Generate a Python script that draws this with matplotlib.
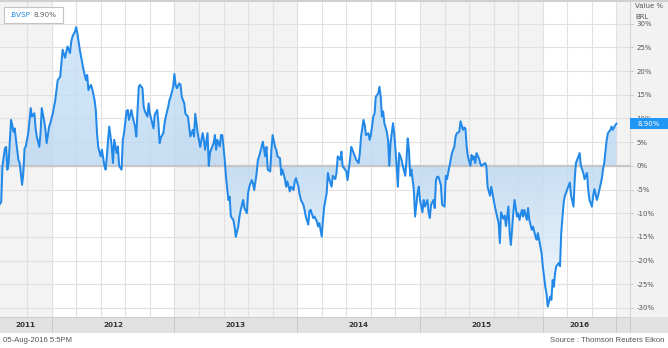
import matplotlib
matplotlib.use('agg')
import matplotlib.pyplot as plt
import matplotlib.transforms as mtransforms
import numpy as np
from matplotlib.colors import LinearSegmentedColormap
from matplotlib.patches import Rectangle

# .BVSP, % change over the period, x in decimal years
years = [
    2011.58, 2011.59, 2011.60, 2011.62, 2011.63, 2011.64, 2011.65, 2011.67, 2011.68, 2011.69,
    2011.70, 2011.71, 2011.73, 2011.74, 2011.76, 2011.77, 2011.78, 2011.79, 2011.81, 2011.83,
    2011.84, 2011.86, 2011.87, 2011.88, 2011.90, 2011.91, 2011.92, 2011.94, 2011.95, 2011.96,
    2011.98, 2011.99, 2012.01, 2012.02, 2012.03, 2012.05, 2012.07, 2012.08, 2012.09, 2012.11,
    2012.12, 2012.13, 2012.15, 2012.16, 2012.17, 2012.19, 2012.20, 2012.21, 2012.22, 2012.23,
    2012.25, 2012.26, 2012.28, 2012.29, 2012.30, 2012.32, 2012.33, 2012.35, 2012.36, 2012.37,
    2012.38, 2012.40, 2012.41, 2012.43, 2012.44, 2012.45, 2012.46, 2012.47, 2012.49, 2012.50,
    2012.51, 2012.53, 2012.54, 2012.55, 2012.57, 2012.58, 2012.59, 2012.61, 2012.62, 2012.63,
    2012.65, 2012.66, 2012.68, 2012.69, 2012.70, 2012.71, 2012.72, 2012.74, 2012.75, 2012.76,
    2012.78, 2012.79, 2012.80, 2012.82, 2012.83, 2012.84, 2012.86, 2012.87, 2012.88, 2012.89,
    2012.91, 2012.92, 2012.93, 2012.95, 2012.96, 2012.97, 2012.99, 2013.00, 2013.01, 2013.02,
    2013.04, 2013.05, 2013.06, 2013.08, 2013.09, 2013.11, 2013.12, 2013.13, 2013.15, 2013.16,
    2013.17, 2013.19, 2013.20, 2013.21, 2013.23, 2013.24, 2013.25, 2013.27, 2013.28, 2013.29,
    2013.31, 2013.32, 2013.33, 2013.34, 2013.35, 2013.37, 2013.38, 2013.39, 2013.41, 2013.42,
    2013.44, 2013.45, 2013.46, 2013.48, 2013.49, 2013.50, 2013.52, 2013.53, 2013.54, 2013.56,
    2013.57, 2013.59, 2013.60, 2013.61, 2013.63, 2013.64, 2013.65, 2013.67, 2013.68, 2013.69,
    2013.71, 2013.72, 2013.74, 2013.75, 2013.76, 2013.78, 2013.79, 2013.80, 2013.82, 2013.83,
    2013.84, 2013.86, 2013.87, 2013.88, 2013.90, 2013.91, 2013.92, 2013.94, 2013.95, 2013.97,
    2013.98, 2013.99, 2014.01, 2014.02, 2014.03, 2014.05, 2014.06, 2014.07, 2014.09, 2014.10,
    2014.11, 2014.13, 2014.14, 2014.16, 2014.17, 2014.18, 2014.20, 2014.21, 2014.22, 2014.24,
    2014.25, 2014.26, 2014.28, 2014.29, 2014.31, 2014.32, 2014.33, 2014.35, 2014.36, 2014.37,
    2014.39, 2014.40, 2014.41, 2014.43, 2014.44, 2014.45, 2014.47, 2014.48, 2014.50, 2014.51,
    2014.52, 2014.54, 2014.55, 2014.56, 2014.58, 2014.59, 2014.60, 2014.62, 2014.63, 2014.64,
    2014.66, 2014.67, 2014.68, 2014.69, 2014.70, 2014.71, 2014.73, 2014.74, 2014.75, 2014.76,
    2014.78, 2014.79, 2014.80, 2014.81, 2014.82, 2014.83, 2014.85, 2014.86, 2014.88, 2014.89,
    2014.90, 2014.91, 2014.92, 2014.93, 2014.95, 2014.96, 2014.98, 2014.99, 2015.00, 2015.02,
    2015.03, 2015.04, 2015.06, 2015.07, 2015.08, 2015.09, 2015.11, 2015.12, 2015.13, 2015.14,
    2015.15, 2015.17, 2015.18, 2015.20, 2015.21, 2015.22, 2015.24, 2015.25, 2015.26, 2015.28,
    2015.29, 2015.30, 2015.32, 2015.33, 2015.35, 2015.36, 2015.37, 2015.38, 2015.39, 2015.41,
    2015.42, 2015.43, 2015.44, 2015.45, 2015.46, 2015.48, 2015.49, 2015.50, 2015.51, 2015.53,
    2015.54, 2015.55, 2015.57, 2015.58, 2015.59, 2015.61, 2015.62, 2015.64, 2015.65, 2015.66,
    2015.68, 2015.69, 2015.70, 2015.72, 2015.73, 2015.74, 2015.76, 2015.77, 2015.79, 2015.80,
    2015.81, 2015.83, 2015.84, 2015.85, 2015.87, 2015.88, 2015.89, 2015.91, 2015.92, 2015.94,
    2015.95, 2015.96, 2015.98, 2015.99, 2016.00, 2016.02, 2016.03, 2016.04, 2016.06, 2016.07,
    2016.08, 2016.09, 2016.10, 2016.11, 2016.13, 2016.14, 2016.15, 2016.17, 2016.18, 2016.19,
    2016.21, 2016.22, 2016.23, 2016.25, 2016.26, 2016.27, 2016.29, 2016.30, 2016.31, 2016.33,
    2016.34, 2016.36, 2016.37, 2016.38, 2016.40, 2016.41, 2016.42, 2016.44, 2016.45, 2016.46,
    2016.48, 2016.49, 2016.50, 2016.52, 2016.53, 2016.55, 2016.56, 2016.57, 2016.59, 2016.60,
]
bvsp_pct = [
    -8.0, -7.6, 0.0, 3.7, 4.0, -0.8, 0.6, 9.7, 8.6, 7.2,
    7.9, 5.5, 1.3, 0.6, -4.0, -1.5, 3.7, 4.1, 6.9, 12.2,
    10.4, 11.1, 7.9, 6.1, 4.0, 6.9, 12.2, 9.4, 7.6, 4.8,
    8.3, 9.0, 11.1, 12.5, 13.9, 18.1, 18.8, 21.7, 24.5, 22.8,
    24.1, 25.2, 23.8, 26.2, 27.3, 28.3, 29.3, 28.0, 26.2, 24.5,
    21.7, 20.3, 18.1, 19.2, 16.0, 17.1, 16.4, 13.9, 11.8, 6.9,
    4.0, 2.0, 3.4, 0.0, -0.8, 2.0, 5.5, 8.3, 4.1, 0.6,
    5.5, 2.7, 4.1, 0.0, -0.8, 5.5, 6.9, 11.5, 11.8, 9.7,
    11.8, 10.4, 8.3, 6.2, 11.8, 16.7, 17.1, 16.4, 12.5, 11.5,
    10.4, 13.2, 11.1, 9.0, 7.9, 10.8, 11.8, 9.0, 4.8, 6.0,
    6.9, 9.0, 10.4, 12.5, 13.9, 14.6, 16.7, 19.4, 17.1, 16.4,
    17.4, 17.1, 14.6, 13.2, 11.0, 10.4, 8.3, 6.2, 7.6, 6.2,
    11.0, 6.9, 5.5, 4.0, 6.9, 5.5, 3.4, 6.9, 0.0, 2.8,
    4.2, 4.8, 6.5, 3.4, 5.5, 4.1, 6.5, 6.5, 1.3, -2.3,
    -7.2, -6.5, -10.7, -11.4, -12.8, -15.0, -12.8, -10.7, -9.3, -7.2,
    -8.9, -10.0, -5.8, -4.4, -3.0, -3.7, -5.1, -1.5, 1.3, 2.0,
    4.0, 5.1, 2.0, 4.0, -0.8, -1.2, 3.4, 6.5, 4.0, 3.4,
    2.0, 1.6, -1.9, -0.8, -2.8, -4.4, -3.3, -5.4, -4.4, -5.1,
    -3.3, -2.6, -4.4, -6.1, -7.2, -8.2, -9.3, -10.7, -12.4, -9.5,
    -9.3, -11.0, -10.7, -11.7, -12.8, -12.1, -14.9, -11.4, -8.6, -5.8,
    -1.5, -2.8, -4.4, -2.1, -2.8, -1.5, 2.0, 1.3, 3.0, -0.1,
    -0.8, -1.2, -3.0, 1.3, 4.0, 3.4, 2.0, 1.3, 0.6, 2.7,
    6.2, 9.7, 8.6, 6.5, 6.9, 5.5, 6.5, 10.4, 11.1, 14.6,
    15.3, 16.7, 14.6, 10.4, 11.5, 9.0, 7.2, 5.5, 0.0, 4.8,
    9.0, 6.9, 3.4, 0.0, -4.4, 2.7, 1.3, 0.0, -2.1, 1.3,
    5.8, 3.4, -2.1, -0.8, -5.1, -10.7, -5.8, -4.4, -7.2, -9.8,
    -7.2, -8.6, -7.2, -9.8, -11.0, -8.2, -7.2, -8.9, -3.0, -2.3,
    -2.3, -4.0, -8.2, -8.6, -2.1, -2.8, 0.0, 1.3, 2.7, 4.1,
    6.2, 6.9, 7.2, 9.4, 7.6, 8.1, 7.9, 4.1, 2.0, 0.0,
    2.3, 1.3, 2.0, 0.6, 2.7, 1.6, 0.6, 0.0, 0.2, 0.6,
    0.0, -4.4, -6.3, -4.4, -5.8, -8.6, -9.8, -12.1, -16.3, -9.8,
    -11.2, -10.5, -12.7, -8.6, -14.2, -16.7, -9.8, -7.2, -10.7, -10.0,
    -11.4, -9.3, -10.7, -9.3, -11.4, -8.9, -11.4, -13.5, -12.8, -14.9,
    -15.6, -14.2, -17.0, -18.4, -21.2, -25.5, -26.9, -29.7, -27.6, -28.3,
    -24.1, -25.5, -22.6, -21.2, -20.5, -21.2, -14.2, -7.7, -6.3, -5.6,
    -4.2, -3.5, -6.3, -8.6, -2.8, 0.6, 2.0, 2.7, 0.0, -1.5,
    -2.8, -1.5, -5.1, -7.2, -8.6, -6.3, -4.9, -7.2, -6.3, -5.1,
    -2.8, -0.8, 0.6, 5.5, 6.9, 7.6, 8.3, 7.6, 8.6, 8.90,
]
ric = '.BVSP'
last_value = bvsp_pct[-1]
ytick_values = list(range(-30, 35, 5))
year_labels = [2011, 2012, 2013, 2014, 2015, 2016]
shaded_years = [2011, 2013, 2015]
timestamp = '05-Aug-2016 5:5PM'
source = 'Source : Thomson Reuters Eikon'

x_min, x_max = 2011.58, 2016.71
y_min, y_max = -31.9, 34.8

W, H = 668, 348
blue = '#2389e8'
grid_c = '#e6dfdf'
txt_c = '#555555'

fig = plt.figure(figsize=(W / 100, H / 100), dpi=100)
fig.patch.set_facecolor('white')

# main plot
ax = fig.add_axes([0, 31 / H, 630 / W, 316 / H])
ax.set_facecolor('white')
for yr in shaded_years:
    ax.axvspan(max(yr, x_min), yr + 1, color='#f3f3f3', lw=0, zorder=0)
ax.axvspan(years[-1], x_max, color='#f3f3f3', lw=0, zorder=0)
for v in ytick_values:
    ax.axhline(v, color=grid_c, lw=0.8, zorder=1)
for xv in np.arange(2011.8, 2016.61, 0.2):
    ax.axvline(xv, color=grid_c, lw=0.8, zorder=1)

# gradient area between line and zero
fill = ax.fill_between(years, bvsp_pct, 0, facecolor='none', edgecolor='none')
zero_frac = (0 - y_min) / (y_max - y_min)
fill_cmap = LinearSegmentedColormap.from_list(
    'fill', [(0, '#f4faff'), (zero_frac, '#bcd8f1'), (1, '#cce5fa')])
grad = np.linspace(0, 1, 256).reshape(-1, 1)
img = ax.imshow(grad, cmap=fill_cmap, extent=(x_min, x_max, y_min, y_max),
                origin='lower', aspect='auto', alpha=0.82, zorder=2,
                interpolation='bilinear')
img.set_clip_path(fill.get_paths()[0], ax.transData)

ax.axhline(0, color='#c6c6c6', lw=1.6, zorder=3)
ax.plot(years, bvsp_pct, color=blue, lw=1.45, zorder=4, solid_joinstyle='round')

ax.set_xlim(x_min, x_max)
ax.set_ylim(y_min, y_max)
ax.set_xticks([])
ax.set_yticks([])
for side in ('left', 'right', 'bottom'):
    ax.spines[side].set_visible(False)
ax.spines['top'].set_color('#d0d0d0')
ax.spines['top'].set_linewidth(1.5)

# legend box top left
fig.patches.append(Rectangle((4 / W, 1 - 23 / H), 59 / W, 16 / H, transform=fig.transFigure,
                             facecolor='white', edgecolor='#c4c4c4', lw=0.8, zorder=10))
fig.text(9 / W, 1 - 15 / H, ric, color=blue, fontsize=5.2, va='center', zorder=11)
fig.text(34 / W, 1 - 15 / H, f'{last_value:.2f}%', color='#666666', fontsize=5.2,
         va='center', zorder=11)

# right value axis
rax = fig.add_axes([630 / W, 31 / H, 38 / W, 316 / H])
rax.set_facecolor('#f2f2f2')
rax.set_xlim(0, 1)
rax.set_ylim(y_min, y_max)
rax.set_xticks([])
rax.set_yticks(ytick_values)
rax.set_yticklabels([f'{v}%' for v in ytick_values])
rax.tick_params(axis='y', direction='in', length=2.5, width=0.6, color='#bbbbbb',
                pad=-4.5, labelsize=5, labelcolor=txt_c)
for lbl in rax.get_yticklabels():
    lbl.set_horizontalalignment('left')
for side in ('right', 'bottom'):
    rax.spines[side].set_visible(False)
rax.spines['left'].set_color('#d4d4d4')
rax.spines['top'].set_color('#d0d0d0')
rax.spines['top'].set_linewidth(1.5)
tag = mtransforms.blended_transform_factory(rax.transAxes, rax.transData)
rax.add_patch(Rectangle((0, last_value - 1.15), 1, 2.3, transform=tag,
                        facecolor='#2196f3', edgecolor='none', zorder=5))
rax.text(0.5, last_value, f'{last_value:.2f}%', transform=tag, ha='center', va='center',
         color='white', fontsize=5, zorder=6)
fig.text(635 / W, 1 - 6 / H, 'Value %', fontsize=5, color=txt_c, va='center')
fig.text(635 / W, 1 - 17 / H, 'BRL', fontsize=5, color=txt_c, va='center')

# year band along the bottom
bx = fig.add_axes([0, 15 / H, 630 / W, 16 / H])
bx.set_facecolor('#e1e1e1')
bx.set_xlim(x_min, x_max)
bx.set_ylim(0, 1)
bx.set_xticks([])
bx.set_yticks([])
for side in ('left', 'right', 'bottom'):
    bx.spines[side].set_visible(False)
bx.spines['top'].set_color('#cfcfcf')
for yr in year_labels[1:] + [years[-1]]:
    bx.axvline(yr, color='#c8c8c8', lw=0.7)
for yr in year_labels:
    lo = max(yr, x_min)
    hi = min(yr + 1, years[-1])
    bx.text((lo + hi) / 2, 0.5, str(yr), ha='center', va='center', fontsize=5.2,
            fontweight='bold', color='#333333')
fig.patches.append(Rectangle((630 / W, 15 / H), 38 / W, 16 / H, transform=fig.transFigure,
                             facecolor='#e1e1e1', edgecolor='none'))
fig.patches.append(Rectangle((630 / W, 15 / H), 0.6 / W, 16 / H, transform=fig.transFigure,
                             facecolor='#c8c8c8', edgecolor='none'))

# footer
fig.text(3 / W, 1 - 341 / H, timestamp, fontsize=5.6, color=txt_c, va='center',
         family='Liberation Sans')
fig.text(664 / W, 1 - 341 / H, source, fontsize=5.6, color=txt_c, va='center', ha='right',
         family='Liberation Sans')

fig.savefig('out.png', dpi=100)
